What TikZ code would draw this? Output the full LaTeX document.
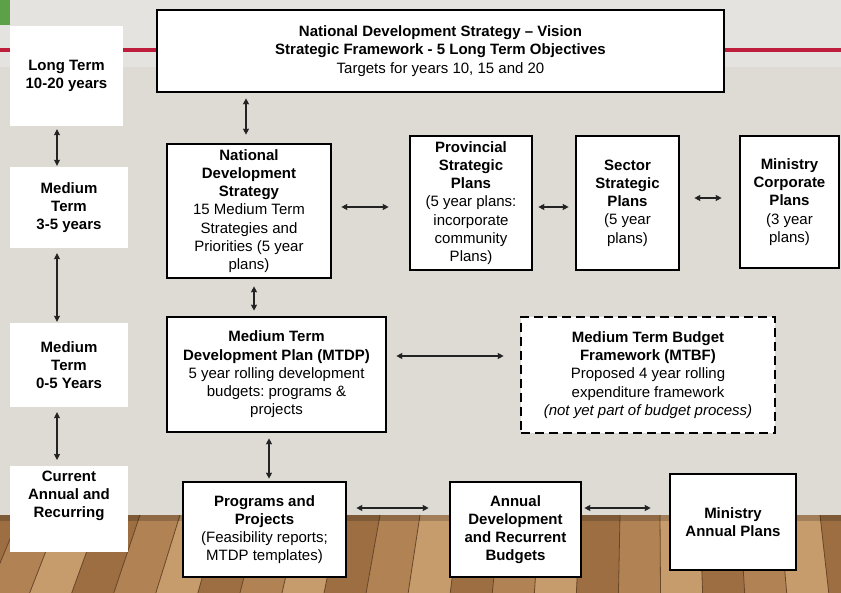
\documentclass[tikz,border=0pt]{standalone}
\usepackage{fontspec}
\setmainfont{Liberation Sans}
\usetikzlibrary{arrows.meta,positioning,calc}
\definecolor{wallgray}{RGB}{222,219,213}
\definecolor{wallband}{RGB}{229,227,223}
\definecolor{slidered}{RGB}{190,30,60}
\definecolor{slidegreen}{RGB}{92,160,72}
\definecolor{arrowgray}{RGB}{35,35,35}
\definecolor{wood0}{RGB}{176,130,84}
\definecolor{wood1}{RGB}{198,156,108}
\definecolor{wood2}{RGB}{156,110,66}
\definecolor{woodline}{RGB}{105,70,40}
\newcommand{\planfont}{\fontsize{15}{18.2}\selectfont\frenchspacing}

\begin{document}
\begin{tikzpicture}[x=1pt, y=-1pt, >={Stealth[length=6pt,width=6pt,inset=0.5pt]},
    box/.style={draw=black, line width=2.6pt, fill=white, inner sep=0pt, align=flush center, font=\planfont},
    termbox/.style={fill=white, inner sep=0pt, align=flush center, font=\planfont\bfseries},
    link/.style={<->, line width=1.1pt, draw=arrowgray}]
        \useasboundingbox (0,0) rectangle (841,593);
        % Wall and slide decoration
        \fill[wallgray] (0,0) rectangle (841,515);
        \fill[wallband] (0,0) rectangle (841,67);
        \draw[slidered, line width=4pt] (0,50) -- (841,50);
        \fill[slidegreen] (0,0) rectangle (10,25);

        % Wooden floor
        \fill[wood0] (0,515) rectangle (841,593);
        \foreach \x [count=\i] in {-60,-20,...,900} {
            \pgfmathsetmacro{\xb}{650+(\x-650)*1.0515}
            \pgfmathsetmacro{\xn}{\x+40}
            \pgfmathsetmacro{\xnb}{650+(\xn-650)*1.0515}
            \pgfmathtruncatemacro{\k}{mod(\i,3)}
            \fill[wood\k] (\x,515) -- (\xn,515) -- (\xnb,593) -- (\xb,593) -- cycle;
            \draw[woodline, line width=0.8pt] (\x,515) -- (\xb,593);
        }
        \fill[black, opacity=0.18] (0,515) rectangle (841,521);

        % Time horizon column
        \node[termbox, minimum width=113pt, minimum height=100pt, text width=110pt] (longterm) at (66.5,76) {Long Term\\ 10-20 years};
        \node[termbox, minimum width=118pt, minimum height=81pt, text width=114pt] (med35) at (69,207.5) {Medium\\ Term\\ 3-5 years};
        \node[termbox, minimum width=118pt, minimum height=84pt, text width=114pt] (med05) at (69,365) {Medium\\ Term\\ 0-5 Years};
        \node[termbox, anchor=north, text width=118pt, text height=15pt, text depth=71pt] (curr) at (69,466) {Current\\ Annual and\\ Recurring};

        % Long term vision
        \node[box, minimum width=567pt, minimum height=82pt, text width=560pt] (vision) at (440.5,51)
            {{\bfseries National Development Strategy – Vision\\ Strategic Framework - 5 Long Term Objectives}\\ Targets for years 10, 15 and 20};

        % Medium term strategies
        \node[box, minimum width=164pt, minimum height=134pt, text width=158pt] (nds) at (249,211)
            {{\bfseries National\\ Development\\ Strategy}\\ 15 Medium Term\\ Strategies and\\ Priorities (5 year\\ plans)};
        \node[box, minimum width=122pt, minimum height=134pt, text width=118pt] (prov) at (471,203)
            {{\bfseries Provincial\\ Strategic\\ Plans}\\ (5 year plans:\\ incorporate\\ community\\ Plans)};
        \node[box, minimum width=103pt, minimum height=134pt, text width=100pt] (sector) at (627.5,203)
            {{\bfseries Sector\\ Strategic\\ Plans}\\ (5 year\\ plans)};
        \node[box, minimum width=99pt, minimum height=132pt, text width=96pt] (mcorp) at (789.5,202)
            {{\bfseries Ministry\\ Corporate\\ Plans}\\ (3 year\\ plans)};

        % Medium term plans and budgets
        \node[box, minimum width=219pt, minimum height=115pt, text width=214pt] (mtdp) at (276.5,374.5)
            {{\bfseries Medium Term\\ Development Plan (MTDP)}\\ 5 year rolling development\\ budgets: programs \&\\ projects};
        \node[box, dash pattern=on 9pt off 5pt, minimum width=254pt, minimum height=116pt, text width=248pt] (mtbf) at (648,375)
            {{\bfseries Medium Term Budget\\ Framework (MTBF)}\\ Proposed 4 year rolling\\ expenditure framework\\ \textit{(not yet part of budget process)}};

        % Annual plans
        \node[box, minimum width=163pt, minimum height=95pt, text width=158pt] (prog) at (264.5,529.5)
            {{\bfseries Programs and\\ Projects}\\ (Feasibility reports;\\ MTDP templates)};
        \node[box, font=\planfont\bfseries, minimum width=131pt, minimum height=95pt, text width=128pt] (annual) at (515.5,529.5)
            {Annual\\ Development\\ and Recurrent\\ Budgets};
        \node[box, font=\planfont\bfseries, minimum width=126pt, minimum height=96pt, text width=122pt] (mannual) at (733,522)
            {Ministry\\ Annual Plans};

        % Links between time horizons
        \draw[link, shorten <=3pt, shorten >=1pt] ([xshift=-9.5pt]longterm.south) -- ([xshift=-12pt]med35.north);
        \draw[link, shorten <=5pt, shorten >=1pt] ([xshift=-12pt]med35.south) -- ([xshift=-12pt]med05.north);
        \draw[link, shorten <=5pt, shorten >=6pt] ([xshift=-12pt]med05.south) -- ([xshift=-12pt]curr.north);

        % Links between plans
        \draw[link, shorten <=5pt, shorten >=8pt] ([xshift=-3pt]nds.north |- vision.south) -- ([xshift=-3pt]nds.north);
        \draw[link, shorten <=9pt, shorten >=20pt] ([yshift=4pt]nds.east) -- ([yshift=4pt]nds.east -| prov.west);
        \draw[link, shorten <=5pt, shorten >=6pt] ([yshift=-4pt]prov.east) -- ([yshift=-4pt]prov.east -| sector.west);
        \draw[link, shorten <=14pt, shorten >=17pt] ([yshift=5pt]sector.east) -- ([yshift=5pt]sector.east -| mcorp.west);
        \draw[link, shorten <=7pt, shorten >=5pt] ([xshift=5pt]nds.south) -- ([xshift=5pt]nds.south |- mtdp.north);
        \draw[link, shorten <=9pt, shorten >=16pt] ([yshift=18.5pt]mtdp.east) -- ([yshift=18.5pt]mtdp.east -| mtbf.west);
        \draw[link, shorten <=5pt, shorten >=2pt] ([xshift=-7.5pt]mtdp.south) -- ([xshift=-7.5pt]mtdp.south |- prog.north);
        \draw[link, shorten <=9pt, shorten >=20pt] ([yshift=21.5pt]prog.east) -- ([yshift=21.5pt]prog.east -| annual.west);
        \draw[link, shorten <=2pt, shorten >=18pt] ([yshift=21.5pt]annual.east) -- ([yshift=21.5pt]annual.east -| mannual.west);
    \end{tikzpicture}
\end{document}
